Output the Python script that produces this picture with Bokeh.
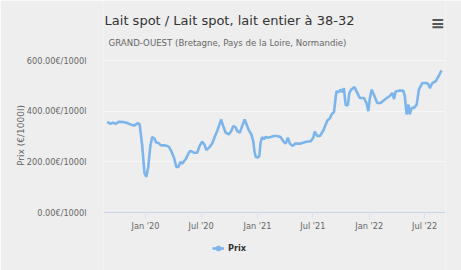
import pandas as pd
from bokeh.plotting import figure
from bokeh.models import (Range1d, FixedTicker, DatetimeTickFormatter, PrintfTickFormatter,
                          Label, Legend, LegendItem, ColumnDataSource)
from bokeh.embed import file_html
from bokeh.resources import INLINE

# ---------------- data ----------------
dates = ["2019-08-29","2019-09-09","2019-09-17","2019-09-25","2019-10-06","2019-10-20","2019-11-02","2019-11-19","2019-11-27","2019-12-07",
         "2019-12-13","2019-12-21","2019-12-29","2020-01-04","2020-01-10","2020-01-17","2020-01-23","2020-01-30","2020-02-05","2020-02-13",
         "2020-02-21","2020-03-06","2020-03-17","2020-03-25","2020-04-03","2020-04-11","2020-04-18","2020-04-24","2020-04-30","2020-05-11",
         "2020-05-22","2020-05-27","2020-06-07","2020-06-18","2020-06-26","2020-07-04","2020-07-12","2020-07-18","2020-07-29","2020-08-06",
         "2020-08-14","2020-08-22","2020-08-30","2020-09-04","2020-09-11","2020-09-19","2020-09-29","2020-10-07","2020-10-14","2020-10-21",
         "2020-10-27","2020-11-04","2020-11-13","2020-11-20","2020-11-26","2020-12-04","2020-12-12","2020-12-18","2020-12-22","2020-12-26",
         "2021-01-02","2021-01-07","2021-01-11","2021-01-16","2021-01-22","2021-01-27","2021-02-04","2021-02-13","2021-02-23","2021-03-06",
         "2021-03-17","2021-03-26","2021-04-03","2021-04-10","2021-04-17","2021-04-25","2021-05-05","2021-05-22","2021-06-01","2021-06-13",
         "2021-06-23","2021-07-02","2021-07-07","2021-07-15","2021-07-24","2021-08-04","2021-08-17","2021-08-25","2021-08-31","2021-09-08",
         "2021-09-13","2021-09-16","2021-09-24","2021-09-29","2021-10-05","2021-10-10","2021-10-16","2021-10-23","2021-10-28","2021-11-03",
         "2021-11-14","2021-11-23","2021-12-01","2021-12-15","2021-12-23","2021-12-29","2022-01-03","2022-01-09","2022-01-16","2022-01-27",
         "2022-02-07","2022-02-23","2022-03-10","2022-03-17","2022-03-23","2022-03-28","2022-04-08","2022-04-22","2022-04-27","2022-05-03",
         "2022-05-09","2022-05-13","2022-05-20","2022-05-27","2022-06-05","2022-06-12","2022-06-23","2022-07-04","2022-07-12","2022-07-18",
         "2022-07-26","2022-08-06","2022-08-15","2022-08-25"]

prices = [358, 350, 355, 350, 358, 357, 353, 345, 344, 353,
          348, 269, 154, 141, 178, 263, 298, 293, 276, 274,
          265, 265, 260, 243, 217, 180, 180, 200, 193, 210,
          236, 243, 236, 236, 263, 280, 267, 246, 259, 272,
          298, 321, 348, 367, 341, 315, 308, 321, 341, 337,
          321, 315, 345, 367, 348, 324, 308, 282, 243, 220,
          217, 223, 276, 298, 289, 298, 295, 298, 302, 302,
          298, 282, 272, 295, 272, 263, 272, 272, 276, 280,
          280, 295, 319, 302, 302, 324, 363, 371, 387, 397,
          452, 478, 476, 485, 476, 491, 424, 424, 472, 485,
          495, 472, 452, 452, 432, 400, 452, 485, 465, 432,
          432, 448, 461, 472, 448, 478, 481, 481, 461, 387,
          426, 387, 413, 413, 426, 485, 511, 511, 508, 491,
          511, 518, 537, 561]

y_ticks = [0, 200, 400, 600]
x_tick_dates = ["2020-01-01", "2020-07-01", "2021-01-01", "2021-07-01", "2022-01-01", "2022-07-01"]

title_text = "Lait spot / Lait spot, lait entier à 38-32"
subtitle_text = "GRAND-OUEST (Bretagne, Pays de la Loire, Normandie)"
series_name = "Prix"
y_axis_title = "Prix (€/1000l)"

# ---------------- layout helpers ----------------
FONT = "DejaVu Sans"
BG = "#eeeeee"
LINE = "#7cb5ec"
W, H = 461, 270
ZERO_PX = 212               # canvas row of the value 0
PX_PER_UNIT = 152 / 600     # 600 units span 152 px


def y_at(canvas_y):
    """data-y for a canvas pixel row (the frame spans the full height)."""
    return (ZERO_PX - canvas_y) / PX_PER_UNIT


src = ColumnDataSource(dict(x=pd.to_datetime(dates), y=prices))

p = figure(width=W, height=H, x_axis_type="datetime",
           output_backend="svg", toolbar_location=None,
           x_range=Range1d(pd.Timestamp("2019-08-17"), pd.Timestamp("2022-09-07")),
           y_range=Range1d(y_at(H), y_at(0)),
           min_border_left=103, min_border_right=16, min_border_top=0, min_border_bottom=0)

p.background_fill_color = BG
p.border_fill_color = BG
p.outline_line_color = None

line_r = p.line("x", "y", source=src, line_color=LINE, line_width=2.6)
# zero-size markers on the series: invisible on the plot, drawn in the legend
marker_r = p.scatter("x", "y", source=src, marker="circle", size=0,
                     fill_color=LINE, line_color=LINE)

# y axis
p.yaxis.ticker = FixedTicker(ticks=y_ticks)
p.yaxis.formatter = PrintfTickFormatter(format="%.2f€/1000l")
p.yaxis.axis_line_color = None
p.yaxis.major_tick_line_color = None
p.yaxis.minor_tick_line_color = None
p.yaxis.major_label_standoff = 11
p.yaxis.major_label_text_font = FONT
p.yaxis.major_label_text_font_size = "8.2px"
p.yaxis.major_label_text_color = "#666666"
p.yaxis.axis_label = y_axis_title
p.yaxis.axis_label_text_font = FONT
p.yaxis.axis_label_text_font_size = "9px"
p.yaxis.axis_label_text_font_style = "normal"
p.yaxis.axis_label_text_color = "#666666"
p.yaxis.axis_label_standoff = -2

# x axis, pinned at value 0
p.xaxis.fixed_location = 0
p.xaxis.ticker = FixedTicker(ticks=[pd.Timestamp(d).value / 1e6 for d in x_tick_dates])
fmt = "%b '%y"
p.xaxis.formatter = DatetimeTickFormatter(milliseconds=fmt, seconds=fmt, minsec=fmt, minutes=fmt,
                                          hourmin=fmt, hours=fmt, days=fmt, months=fmt, years=fmt)
p.xaxis.axis_line_color = "#ccd6eb"
p.xaxis.axis_line_width = 1
p.xaxis.major_tick_line_color = "#dde3ee"
p.xaxis.major_tick_in = 0
p.xaxis.major_tick_out = 6
p.xaxis.minor_tick_line_color = None
p.xaxis.major_label_standoff = 2
p.xaxis.major_label_text_font = FONT
p.xaxis.major_label_text_font_size = "8.2px"
p.xaxis.major_label_text_color = "#666666"

p.xgrid.grid_line_color = None
p.ygrid.grid_line_color = "#f7f7f7"
p.ygrid.ticker = FixedTicker(ticks=y_ticks)

# titles and menu icon, inside the (extended) frame
p.add_layout(Label(x=126, y=y_at(20), x_units="screen", y_units="data", text=title_text,
                   text_align="center", text_baseline="middle", text_font=FONT,
                   text_font_size="13px", text_color="#333333"))
p.add_layout(Label(x=124, y=y_at(42), x_units="screen", y_units="data", text=subtitle_text,
                   text_align="center", text_baseline="middle", text_font=FONT,
                   text_font_size="8.6px", text_color="#666666"))
p.add_layout(Label(x=334, y=y_at(22), x_units="screen", y_units="data", text="≡",
                   text_align="center", text_baseline="middle", text_font=FONT,
                   text_font_size="17px", text_font_style="bold", text_color="#555555"))

# legend inside the frame, under the axis
legend = Legend(items=[LegendItem(label=series_name, renderers=[line_r, marker_r])],
                location=(109, 14), orientation="horizontal",
                glyph_width=12, glyph_height=16, label_standoff=4, padding=0, margin=0,
                spacing=0, background_fill_alpha=0, border_line_color=None,
                label_text_font=FONT, label_text_font_size="8.2px", label_text_font_style="bold",
                label_text_color="#333333", label_height=16)
p.add_layout(legend)

open("out.html", "w").write(file_html(p, INLINE))
